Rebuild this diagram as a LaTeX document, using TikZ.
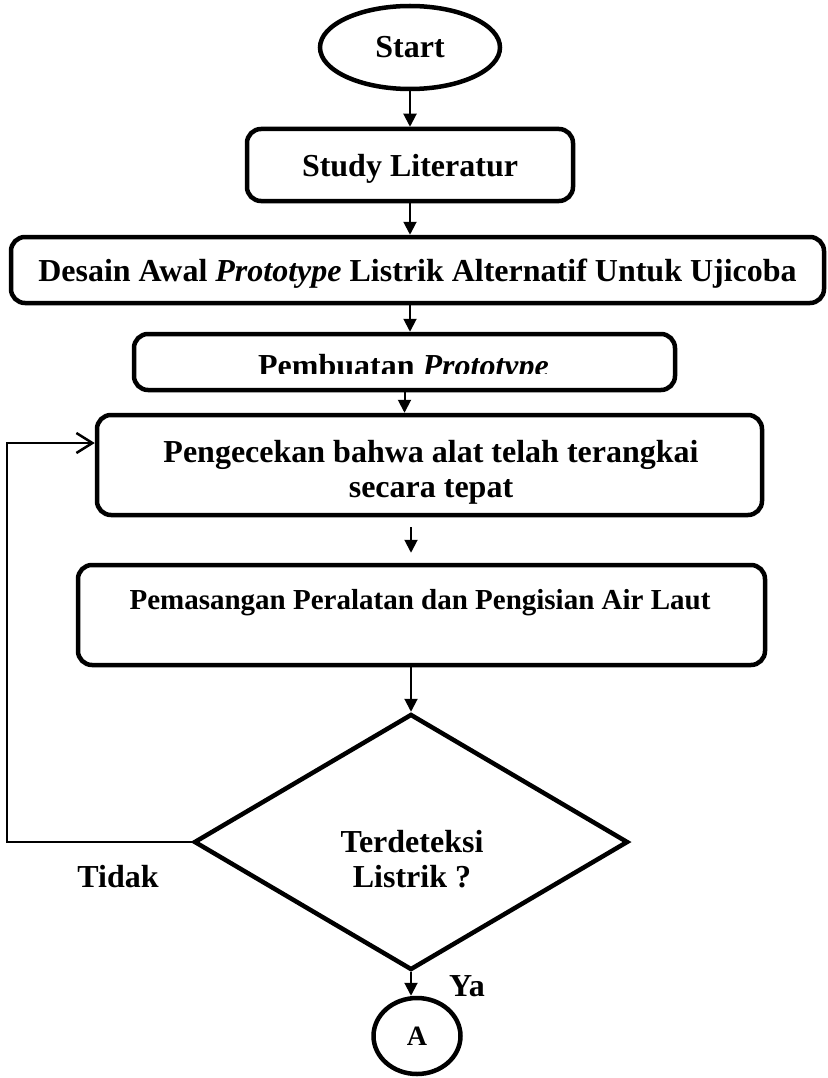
\documentclass[tikz,border=0pt]{standalone}
\usepackage{fontspec}
\setmainfont{Liberation Serif}
\usetikzlibrary{shapes.geometric,arrows.meta}
\begin{document}
\begin{tikzpicture}[x=1pt,y=-1pt,
    every node/.style={inner sep=0pt,font=\fontsize{32}{35}\selectfont\bfseries},
    box/.style={draw=black,line width=4.5pt,rounded corners=14pt,text depth=0pt},
    oval/.style={draw=black,line width=4.5pt,ellipse},
    arr/.style={-{Triangle[length=13pt,width=13pt]},line width=2pt},
    back/.style={-{Straight Barb[length=16pt,width=20pt]},line width=2.5pt}]
    \useasboundingbox (0,0) rectangle (827,1078);
    \node [oval,minimum width=180pt,minimum height=83pt] (start) at (410,47.5) {Start};
    \node [box,minimum width=326pt,minimum height=72pt] (study) at (410,165) {Study Literatur};
    \node [box,minimum width=813pt,minimum height=66pt] (desain) at (417.5,270) {Desain Awal \textit{Prototype} Listrik Alternatif Untuk Ujicoba};
    \node [box,minimum width=541pt,minimum height=56pt] (buat) at (404.5,362) {};
    \begin{scope}
        \clip (132,332) rectangle (677,373);
        \node [anchor=base] (buattxt) at (403.5,376) {Pembuatan \textit{Prototype}};
    \end{scope}
    \node [box,minimum width=665pt,minimum height=100pt] (cek) at (429.5,465) {};
    \node [align=center] (cektxt) at (431,472) {Pengecekan bahwa alat telah terangkai\\secara tepat};
    \node [box,minimum width=687pt,minimum height=100pt] (pasang) at (421.5,615) {};
    \node [font=\fontsize{29}{33}\selectfont\bfseries] (pasangtxt) at (420,603) {Pemasangan Peralatan dan Pengisian Air Laut};
    \node [draw=black,line width=4.5pt,diamond,minimum width=434pt,minimum height=256pt] (dec) at (411,842) {};
    \node [align=center] (dectxt) at (412,859.5) {Terdeteksi\\Listrik ?};
    \node (tidak) at (118,877) {Tidak};
    \node (ya) at (467,986.5) {Ya};
    \node [oval,minimum width=87pt,minimum height=76pt,font=\fontsize{28}{32}\selectfont\bfseries] (a) at (417,1036) {A};
    \coordinate (bendlow) at (7,842);
    \coordinate (bendhigh) at (7,443);
    \draw [arr] (start.south) -- (start.south |- study.north);
    \draw [arr] (study.south) -- (study.south |- desain.north);
    \draw [arr] (desain.south -| study.south) -- (buat.north -| study.south);
    \draw [arr] (buat.south) -- (buat.south |- cek.north);
    \draw [arr,shorten <=10pt,shorten >=10pt] (cek.south -| dec.north) -- (pasang.north -| dec.north);
    \draw [arr] (pasang.south -| dec.north) -- (dec.north);
    \draw [arr] (dec.south) -- (dec.south |- a.north);
    \draw [back] (dec.west) -- (bendlow) -- (bendhigh) -- (bendhigh -| cek.west);
\end{tikzpicture}
\end{document}
